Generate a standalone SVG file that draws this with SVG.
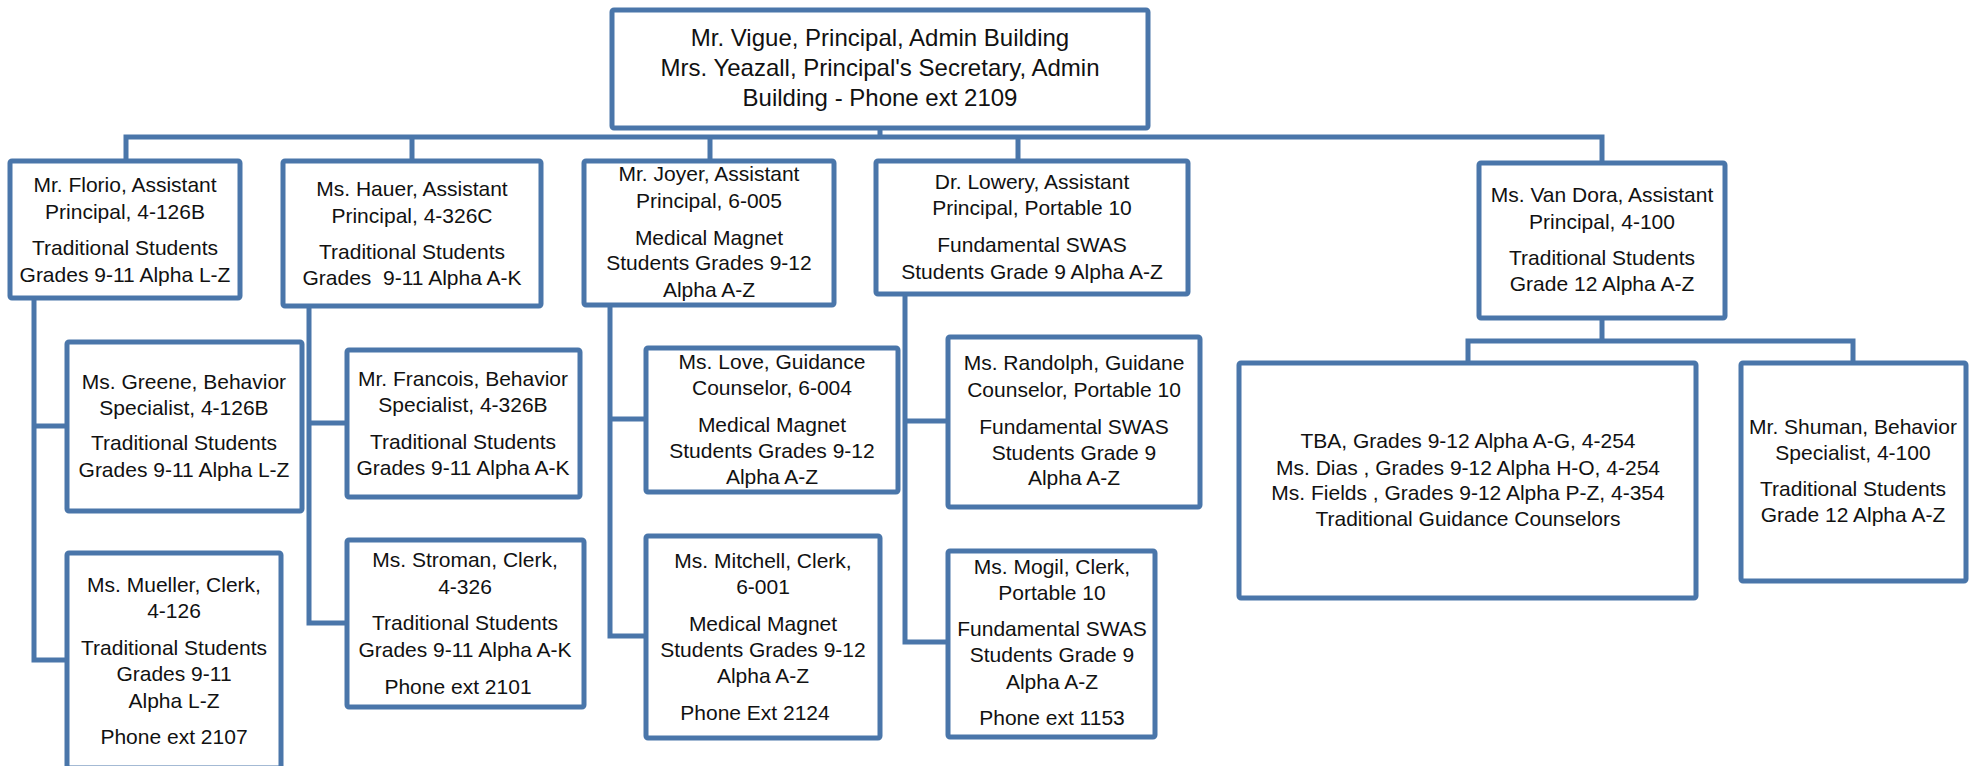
<svg xmlns="http://www.w3.org/2000/svg" width="1971" height="766" viewBox="0 0 1971 766">
<style>
.box{fill:#fff;stroke:#4A76AA;stroke-width:5;}
.ln{fill:none;stroke:#4A76AA;stroke-width:5;stroke-linecap:square;}
text{font-family:"Liberation Sans",Arial,sans-serif;font-size:21px;fill:#111;text-anchor:middle;}
.big{font-size:24px;}
</style>
<rect width="1971" height="766" fill="#fff"/>
<g id="connectors">
<path class="ln" d="M880,128V137M126,137H1602M126,137V161M412,137V161M710,137V161M1018,137V161M1602,137V163"/>
<path class="ln" d="M34,298V660M34,426H67M34,660H67"/>
<path class="ln" d="M309,306V623M309,423H347M309,623H347"/>
<path class="ln" d="M610,305V636M610,419H646M610,636H646"/>
<path class="ln" d="M905,294V642M905,421H948M905,642H948"/>
<path class="ln" d="M1602,318V341M1468,341H1853M1468,341V363M1853,341V363"/>
</g>
<g id="n-vigue">
<rect class="box" x="612" y="10" width="536" height="118" rx="2"/>
<text class="big"><tspan x="880" y="46">Mr. Vigue, Principal, Admin Building</tspan><tspan x="880" y="76">Mrs. Yeazall, Principal's Secretary, Admin</tspan><tspan x="880" y="106">Building - Phone ext 2109</tspan></text>
</g>
<g id="n-florio">
<rect class="box" x="10" y="161" width="230" height="137" rx="2"/>
<text><tspan x="125" y="192">Mr. Florio, Assistant</tspan><tspan x="125" y="219">Principal, 4-126B</tspan><tspan x="125" y="255">Traditional Students</tspan><tspan x="125" y="282">Grades 9-11 Alpha L-Z</tspan></text>
</g>
<g id="n-hauer">
<rect class="box" x="283" y="161" width="258" height="145" rx="2"/>
<text><tspan x="412" y="196">Ms. Hauer, Assistant</tspan><tspan x="412" y="223">Principal, 4-326C</tspan><tspan x="412" y="259">Traditional Students</tspan><tspan x="412" y="285" xml:space="preserve">Grades  9-11 Alpha A-K</tspan></text>
</g>
<g id="n-joyer">
<rect class="box" x="584" y="161" width="250" height="144" rx="2"/>
<text><tspan x="709" y="181">Mr. Joyer, Assistant</tspan><tspan x="709" y="208">Principal, 6-005</tspan><tspan x="709" y="245">Medical Magnet</tspan><tspan x="709" y="270">Students Grades 9-12</tspan><tspan x="709" y="297">Alpha A-Z</tspan></text>
</g>
<g id="n-lowery">
<rect class="box" x="876" y="161" width="312" height="133" rx="2"/>
<text><tspan x="1032" y="189">Dr. Lowery, Assistant</tspan><tspan x="1032" y="215">Principal, Portable 10</tspan><tspan x="1032" y="252">Fundamental SWAS</tspan><tspan x="1032" y="279">Students Grade 9 Alpha A-Z</tspan></text>
</g>
<g id="n-vandora">
<rect class="box" x="1479" y="163" width="246" height="155" rx="2"/>
<text><tspan x="1602" y="202">Ms. Van Dora, Assistant</tspan><tspan x="1602" y="229">Principal, 4-100</tspan><tspan x="1602" y="265">Traditional Students</tspan><tspan x="1602" y="291">Grade 12 Alpha A-Z</tspan></text>
</g>
<g id="n-greene">
<rect class="box" x="67" y="342" width="235" height="169" rx="2"/>
<text><tspan x="184" y="389">Ms. Greene, Behavior</tspan><tspan x="184" y="415">Specialist, 4-126B</tspan><tspan x="184" y="450">Traditional Students</tspan><tspan x="184" y="477">Grades 9-11 Alpha L-Z</tspan></text>
</g>
<g id="n-mueller">
<rect class="box" x="67" y="553" width="214" height="215" rx="2"/>
<text><tspan x="174" y="592">Ms. Mueller, Clerk,</tspan><tspan x="174" y="618">4-126</tspan><tspan x="174" y="655">Traditional Students</tspan><tspan x="174" y="681">Grades 9-11</tspan><tspan x="174" y="708">Alpha L-Z</tspan><tspan x="174" y="744">Phone ext 2107</tspan></text>
</g>
<g id="n-francois">
<rect class="box" x="347" y="350" width="233" height="147" rx="2"/>
<text><tspan x="463" y="386">Mr. Francois, Behavior</tspan><tspan x="463" y="412">Specialist, 4-326B</tspan><tspan x="463" y="449">Traditional Students</tspan><tspan x="463" y="475">Grades 9-11 Alpha A-K</tspan></text>
</g>
<g id="n-stroman">
<rect class="box" x="347" y="540" width="237" height="167" rx="2"/>
<text><tspan x="465" y="567">Ms. Stroman, Clerk,</tspan><tspan x="465" y="594">4-326</tspan><tspan x="465" y="630">Traditional Students</tspan><tspan x="465" y="657">Grades 9-11 Alpha A-K</tspan><tspan x="458" y="694">Phone ext 2101</tspan></text>
</g>
<g id="n-love">
<rect class="box" x="646" y="348" width="252" height="144" rx="2"/>
<text><tspan x="772" y="369">Ms. Love, Guidance</tspan><tspan x="772" y="395">Counselor, 6-004</tspan><tspan x="772" y="432">Medical Magnet</tspan><tspan x="772" y="458">Students Grades 9-12</tspan><tspan x="772" y="484">Alpha A-Z</tspan></text>
</g>
<g id="n-mitchell">
<rect class="box" x="646" y="536" width="234" height="202" rx="2"/>
<text><tspan x="763" y="568">Ms. Mitchell, Clerk,</tspan><tspan x="763" y="594">6-001</tspan><tspan x="763" y="631">Medical Magnet</tspan><tspan x="763" y="657">Students Grades 9-12</tspan><tspan x="763" y="683">Alpha A-Z</tspan><tspan x="755" y="720">Phone Ext 2124</tspan></text>
</g>
<g id="n-randolph">
<rect class="box" x="948" y="337" width="252" height="170" rx="2"/>
<text><tspan x="1074" y="370">Ms. Randolph, Guidane</tspan><tspan x="1074" y="397">Counselor, Portable 10</tspan><tspan x="1074" y="434">Fundamental SWAS</tspan><tspan x="1074" y="460">Students Grade 9</tspan><tspan x="1074" y="485">Alpha A-Z</tspan></text>
</g>
<g id="n-mogil">
<rect class="box" x="948" y="551" width="207" height="186" rx="2"/>
<text><tspan x="1052" y="574">Ms. Mogil, Clerk,</tspan><tspan x="1052" y="600">Portable 10</tspan><tspan x="1052" y="636">Fundamental SWAS</tspan><tspan x="1052" y="662">Students Grade 9</tspan><tspan x="1052" y="689">Alpha A-Z</tspan><tspan x="1052" y="725">Phone ext 1153</tspan></text>
</g>
<g id="n-tba">
<rect class="box" x="1239" y="363" width="457" height="235" rx="2"/>
<text><tspan x="1468" y="448">TBA, Grades 9-12 Alpha A-G, 4-254</tspan><tspan x="1468" y="475">Ms. Dias , Grades 9-12 Alpha H-O, 4-254</tspan><tspan x="1468" y="500">Ms. Fields , Grades 9-12 Alpha P-Z, 4-354</tspan><tspan x="1468" y="526">Traditional Guidance Counselors</tspan></text>
</g>
<g id="n-shuman">
<rect class="box" x="1741" y="363" width="225" height="218" rx="2"/>
<text><tspan x="1853" y="434">Mr. Shuman, Behavior</tspan><tspan x="1853" y="460">Specialist, 4-100</tspan><tspan x="1853" y="496">Traditional Students</tspan><tspan x="1853" y="522">Grade 12 Alpha A-Z</tspan></text>
</g>
</svg>
